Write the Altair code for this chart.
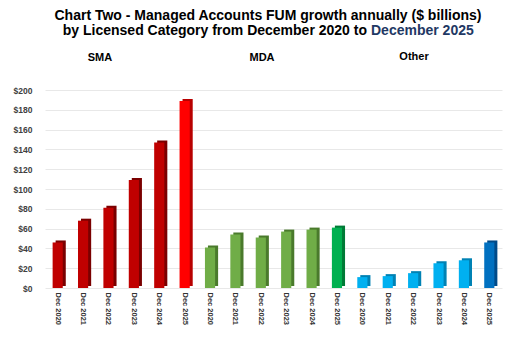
import altair as alt
import pandas as pd

groups = ["SMA", "MDA", "Other"]
years = ["Dec 2020", "Dec 2021", "Dec 2022", "Dec 2023", "Dec 2024", "Dec 2025"]
sma_values = [46, 68, 81, 109, 147, 189]
mda_values = [41, 54, 51, 57, 59, 61]
other_values = [11, 12, 15, 25, 28, 46]
y_ticks = [0, 20, 40, 60, 80, 100, 120, 140, 160, 180, 200]

title_line1 = "Chart Two - Managed Accounts FUM growth annually ($ billions)"
title_line2a = "by Licensed Category from December 2020 to"
title_line2b = "December 2025"

rows = []
for g, vals in zip(groups, [sma_values, mda_values, other_values]):
    for yr, v in zip(years, vals):
        tone = g + (" latest" if yr == years[-1] else "")
        rows.append({"key": g + "|" + yr, "group": g, "year": yr, "value": v, "tone": tone})
df = pd.DataFrame(rows)
keys = list(df["key"])

tones = ["SMA", "SMA latest", "MDA", "MDA latest", "Other", "Other latest"]
front = ["#C00000", "#FF0000", "#70AD47", "#00B050", "#00B0F0", "#0070C0"]
side = ["#7A0000", "#B80000", "#4A7A2C", "#007A36", "#0082B4", "#004A88"]

x = alt.X(
    "key:N",
    sort=keys,
    scale=alt.Scale(paddingInner=0.6, paddingOuter=0.3),
    axis=alt.Axis(
        title=None,
        labelExpr="split(datum.value, '|')[1]",
        labelAngle=90,
        labelFont="Liberation Sans",
        labelFontWeight="bold",
        labelFontSize=7.5,
        labelColor="#333333",
        labelPadding=4,
        ticks=False,
        domain=False,
        grid=False,
    ),
)
y = alt.Y(
    "value:Q",
    scale=alt.Scale(domain=[0, 200], nice=False),
    axis=alt.Axis(
        title=None,
        values=y_ticks,
        labelExpr="'$' + datum.value",
        labelFont="Liberation Sans",
        labelFontWeight="bold",
        labelFontSize=8.5,
        labelColor="#404040",
        labelPadding=13,
        ticks=False,
        domain=False,
        gridColor="#E8E8E8",
        gridWidth=1,
    ),
)

base = alt.Chart(df)
shadow = base.mark_bar(xOffset=3, yOffset=-2).encode(
    x=x, y=y,
    color=alt.Color("tone:N", scale=alt.Scale(domain=tones, range=side), legend=None),
)
bars = base.mark_bar().encode(
    x=x, y=y,
    color=alt.Color("tone:N", scale=alt.Scale(domain=tones, range=front), legend=None),
)

titles = pd.DataFrame({"t": [0]})
t1 = alt.Chart(titles).mark_text(
    text=title_line1, font="Liberation Sans", fontWeight="bold", fontSize=14,
    align="center", baseline="middle", color="#000000",
).encode(x=alt.value(223), y=alt.value(-74))
t2a = alt.Chart(titles).mark_text(
    text=title_line2a, font="Liberation Sans", fontWeight="bold", fontSize=14,
    align="right", baseline="middle", color="#000000",
).encode(x=alt.value(322), y=alt.value(-59))
t2b = alt.Chart(titles).mark_text(
    text=title_line2b, font="Liberation Sans", fontWeight="bold", fontSize=14,
    align="left", baseline="middle", color="#1F3864",
).encode(x=alt.value(326), y=alt.value(-59))

glabels = pd.DataFrame({"group": groups, "px": [55, 217, 369], "py": [-32, -32, -33]})
gl = alt.Chart(glabels).mark_text(
    font="Liberation Sans", fontWeight="bold", fontSize=11, align="center",
    baseline="middle", color="#000000",
).encode(
    x=alt.X("px:Q", scale=None), y=alt.Y("py:Q", scale=None), text="group:N"
)

chart = alt.layer(shadow, bars, t1, t2a, t2b, gl).resolve_scale(
    color="independent"
).properties(
    width=457, height=198,
    padding={"left": 45, "top": 90, "right": 13, "bottom": 49},
    autosize=alt.AutoSizeParams(type="none"),
    background="white",
).configure_view(stroke=None)

chart.save("out.html", embed_options={"renderer": "svg", "actions": False})
